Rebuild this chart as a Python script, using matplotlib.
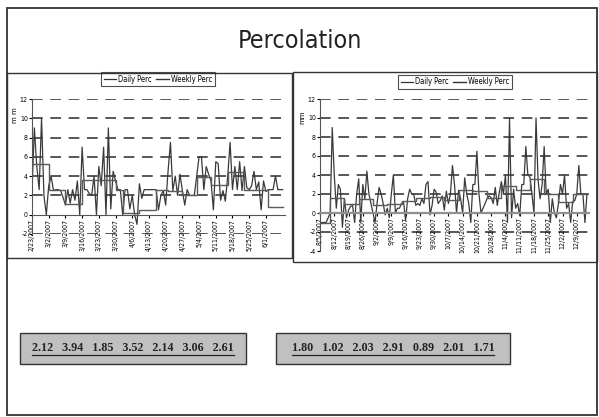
"""Percolation slide: daily vs weekly percolation for two periods"""

from datetime import date, timedelta
import matplotlib.pyplot as plt
import matplotlib.dates as mdates
from matplotlib.patches import Rectangle
from matplotlib.lines import Line2D

plt.rcParams['axes.unicode_minus'] = False

# ---- data ----
left_start = date(2007, 2, 23)
left_daily = [
    2.6, 9.0, 5.0, 2.6, 10.0, 2.0, 0.0, 3.0, 4.0, 2.5,
    2.6, 2.6, 2.5, 1.8, 1.0, 2.6, 1.2, 2.6, 1.5, 3.5,
    0.0, 7.0, 2.6, 2.6, 2.2, 2.0, 4.0, 0.0, 5.0, 3.0,
    7.0, 0.0, 9.0, 0.6, 4.5, 3.5, 2.6, 2.6, 0.0, 2.6,
    2.6, 0.6, 2.0, 0.0, -1.0, 3.2, 1.7, 2.6, 2.6, 2.6,
    2.6, 2.6, 2.6, 0.5, 2.0, 2.5, 1.0, 4.5, 7.5, 2.5,
    4.0, 2.0, 4.2, 2.5, 1.0, 2.6, 2.0, 2.0, 2.0, 4.0,
    6.0, 6.0, 2.6, 5.0, 4.2, 3.5, 0.5, 5.5, 5.3, 1.5,
    2.5, 1.4, 4.0, 7.5, 2.6, 5.0, 2.6, 5.5, 2.5, 5.0,
    2.8, 2.6, 3.0, 4.5, 2.6, 3.4, 0.5, 3.5, 2.4, 2.6,
    2.6, 2.6, 4.0, 2.6, 2.6, 2.6,
]
left_week_starts = [date(2007, 2, 23), date(2007, 3, 2), date(2007, 3, 9),
                    date(2007, 3, 16), date(2007, 3, 30), date(2007, 4, 2),
                    date(2007, 4, 9), date(2007, 4, 16), date(2007, 4, 21),
                    date(2007, 4, 27), date(2007, 5, 3), date(2007, 5, 9),
                    date(2007, 5, 16), date(2007, 5, 23), date(2007, 6, 2)]
left_weekly = [5.3, 2.6, 1.1, 3.6, 2.6, 0.2, 0.5, 2.6, 2.5, 2.0, 3.9, 3.1,
               4.4, 2.6, 0.8]
left_labels = 15

right_start = date(2007, 8, 5)
right_daily = [
    -1.0, -1.0, -1.0, -1.0, -0.5, 0.0, 9.0, 4.0, 0.5, 3.0,
    2.5, -1.5, 1.5, -0.5, 0.3, 0.7, 0.8, -1.0, 2.0, 3.6,
    -1.0, 3.0, 1.5, 4.4, 2.0, 1.0, 0.0, -1.0, 1.0, 2.7,
    2.0, 1.0, -0.2, 0.5, -0.5, 2.0, 4.0, 0.0, 0.5, 0.5,
    1.0, 1.2, -0.8, 1.5, 2.5, 2.0, 2.0, 0.8, 1.0, 0.8,
    1.5, 1.0, 3.0, 3.3, -0.2, 0.8, 2.5, 2.2, 1.0, 1.3,
    1.8, 0.3, 2.3, 1.0, 2.0, 5.0, 3.0, 0.0, 2.4, 1.5,
    0.0, 3.7, 2.0, 1.0, -1.0, 3.0, 3.0, 6.5, 2.0, 0.0,
    0.5, 1.0, 1.5, 1.8, 1.6, 1.0, 2.7, 0.8, 2.2, 3.3,
    2.0, 4.0, -1.0, 10.0, -0.5, 2.5, 0.5, 1.0, -0.3, 3.0,
    3.0, 7.0, 4.0, 3.8, 2.0, 0.0, 10.0, 3.5, 1.5, 3.0,
    7.0, 2.0, 2.5, -1.0, 1.5, 0.0, -0.5, 1.0, 3.0, 2.0,
    4.0, 0.5, 1.0, -1.0, 1.2, 1.3, 2.0, 5.0, 2.0, 2.0,
    -1.0, 2.0, 2.0,
]
right_week_starts = [date(2007, 8, 5), date(2007, 8, 10), date(2007, 8, 17),
                     date(2007, 8, 24), date(2007, 8, 31), date(2007, 9, 7),
                     date(2007, 9, 14), date(2007, 9, 21), date(2007, 9, 28),
                     date(2007, 10, 5), date(2007, 10, 12), date(2007, 10, 19),
                     date(2007, 10, 26), date(2007, 11, 2), date(2007, 11, 9),
                     date(2007, 11, 16), date(2007, 11, 23), date(2007, 11, 30),
                     date(2007, 12, 7)]
right_weekly = [-1.0, 1.6, 0.9, 1.5, 0.8, 1.0, 1.25, 1.6, 1.7, 1.4, 2.4,
                2.3, 1.55, 2.8, 2.4, 3.6, 2.0, 1.2, 2.0]
right_labels = 19

left_means = [2.12, 3.94, 1.85, 3.52, 2.14, 3.06, 2.61]
right_means = [1.80, 1.02, 2.03, 2.91, 0.89, 2.01, 1.71]

W, H = 599, 417
NARROW = ['Liberation Sans Narrow', 'DejaVu Sans']


def fx(x):
    return x / W


def fy(y):
    return 1 - y / H


def box(fig, x0, y0, x1, y1, **kw):
    fig.patches.append(Rectangle((fx(x0), fy(y1)), fx(x1 - x0), (y1 - y0) / H,
                                 transform=fig.transFigure, **kw))


def draw_chart(ax, start, daily, week_starts, weekly, ylo, ylabel, ndays, nlab):
    days = [start + timedelta(days=i) for i in range(len(daily))]
    end = start + timedelta(days=ndays)
    ax.plot(days, daily, color='#3a3a3a', lw=0.9, label='Daily Perc')
    ax.step(week_starts + [days[-1]], weekly + [weekly[-1]], where='post',
            color='#5a5a5a', lw=1.0, label='Weekly Perc')
    ax.set_xlim(start, end)
    ax.set_ylim(ylo, 12)
    ax.set_yticks(range(ylo, 13, 2))
    for y in range(-2, 13, 2):
        if y != 0:
            ax.axhline(y, color='#2a2a2a', lw=1.1, dashes=(7, 5), zorder=0)
    ax.spines[['top', 'right']].set_visible(False)
    ax.spines['bottom'].set_position(('data', 0))
    ax.spines['bottom'].set_color('#555555')
    ax.spines['left'].set_color('#555555')
    ax.set_xticks([start + timedelta(days=7 * k) for k in range(nlab)])
    ax.xaxis.set_major_formatter(
        plt.FuncFormatter(lambda v, p: '{d.month}/{d.day}/{d.year}'.format(
            d=mdates.num2date(v))))
    ax.tick_params(axis='x', labelrotation=90, labelsize=5, length=2, pad=1)
    ax.tick_params(axis='y', labelsize=5, length=2, pad=1)
    for lab in ax.get_xticklabels() + ax.get_yticklabels():
        lab.set_family(NARROW)
        lab.set_stretch('condensed')
    ax.set_ylabel(ylabel, fontsize=5, family=NARROW, labelpad=4)
    ax.yaxis.set_label_coords(-0.055, 0.88)


fig = plt.figure(figsize=(W / 100, H / 100), dpi=100)

# slide frame and chart boxes
box(fig, 7, 8, 597, 415, fill=False, ec='#333333', lw=1.3)
box(fig, 7, 73, 292, 258, fill=False, ec='#333333', lw=1.0)
box(fig, 293, 72, 597, 262, fill=False, ec='#333333', lw=1.0)

fig.text(0.5, fy(41), 'Percolation', ha='center', va='center', fontsize=18,
         family=NARROW, stretch='condensed', color='#222222')

ax1 = fig.add_axes([fx(32), fy(234), fx(253), 135 / H])
draw_chart(ax1, left_start, left_daily, left_week_starts, left_weekly, -2,
           'm m', 106, left_labels)
ax2 = fig.add_axes([fx(320), fy(251), fx(269), 152 / H])
draw_chart(ax2, right_start, right_daily, right_week_starts, right_weekly, -4,
           'mm', 132, right_labels)
ax2.spines['bottom'].set_color('#909090')
ax2.spines['bottom'].set_linewidth(1.6)

for ax, cx, cy in [(ax1, 158, 79), (ax2, 455, 82)]:
    leg = ax.legend(loc='center', bbox_to_anchor=(fx(cx), fy(cy)),
                    bbox_transform=fig.transFigure, ncol=2,
                    frameon=True, fancybox=False, handlelength=1.6,
                    handletextpad=0.3, columnspacing=0.6, borderpad=0.3,
                    prop={'family': NARROW, 'size': 5.5, 'stretch': 'condensed'})
    leg.get_frame().set_edgecolor('#222222')
    leg.get_frame().set_linewidth(0.8)
    for h in leg.get_lines():
        h.set_color('#333333')

# summary boxes at the bottom
for vals, x0, x1 in [(left_means, 20, 246), (right_means, 276, 510)]:
    box(fig, x0, 333, x1, 364, fc='#c0c0c0', ec='#333333', lw=1.0)
    txt = '   '.join('{:.2f}'.format(v) for v in vals)
    t = fig.text(fx((x0 + x1) / 2), fy(348), txt, ha='center', va='center',
                 fontsize=8.7, fontweight='bold', family=['Liberation Serif'],
                 color='#222222')
    fig.canvas.draw()
    bb = t.get_window_extent()
    fig.lines.append(Line2D([bb.x0 / W, bb.x1 / W], [fy(354.5), fy(354.5)],
                            transform=fig.transFigure, color='#222222', lw=0.9))

fig.savefig('out.png', dpi=100)
